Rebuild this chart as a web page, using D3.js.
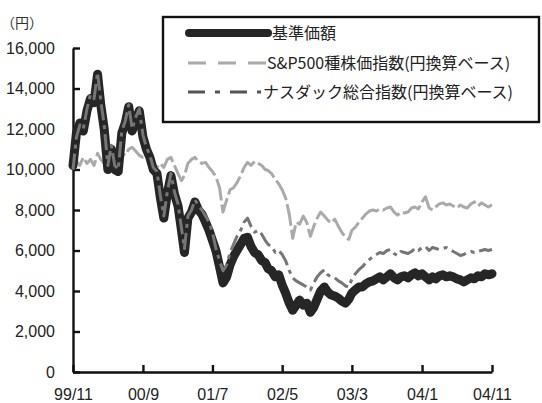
<!DOCTYPE html>
<html><head><meta charset="utf-8">
<script src="https://cdn.jsdelivr.net/npm/d3@7"></script>
<style>
html,body{margin:0;padding:0;background:#fff;}
svg{display:block;}
</style></head>
<body>
<svg id="chart" width="542" height="403"></svg>
<script>
const dates = [
"1999-11-01","1999-11-16","1999-12-01","1999-12-16",
"2000-01-01","2000-01-16","2000-02-01","2000-02-16","2000-03-01","2000-03-16","2000-04-01","2000-04-16",
"2000-05-01","2000-05-16","2000-06-01","2000-06-16","2000-07-01","2000-07-16","2000-08-01","2000-08-16",
"2000-09-01","2000-09-16","2000-10-01","2000-10-16","2000-11-01","2000-11-16","2000-12-01","2000-12-16",
"2001-01-01","2001-01-16","2001-02-01","2001-02-16","2001-03-01","2001-03-16","2001-04-01","2001-04-16",
"2001-05-01","2001-05-16","2001-06-01","2001-06-16","2001-07-01","2001-07-16","2001-08-01","2001-08-16",
"2001-09-01","2001-09-16","2001-10-01","2001-10-16","2001-11-01","2001-11-16","2001-12-01","2001-12-16",
"2002-01-01","2002-01-16","2002-02-01","2002-02-16","2002-03-01","2002-03-16","2002-04-01","2002-04-16",
"2002-05-01","2002-05-16","2002-06-01","2002-06-16","2002-07-01","2002-07-16","2002-08-01","2002-08-16",
"2002-09-01","2002-09-16","2002-10-01","2002-10-16","2002-11-01","2002-11-16","2002-12-01","2002-12-16",
"2003-01-01","2003-01-16","2003-02-01","2003-02-16","2003-03-01","2003-03-16","2003-04-01","2003-04-16",
"2003-05-01","2003-05-16","2003-06-01","2003-06-16","2003-07-01","2003-07-16","2003-08-01","2003-08-16",
"2003-09-01","2003-09-16","2003-10-01","2003-10-16","2003-11-01","2003-11-16","2003-12-01","2003-12-16",
"2004-01-01","2004-01-16","2004-02-01","2004-02-16","2004-03-01","2004-03-16","2004-04-01","2004-04-16",
"2004-05-01","2004-05-16","2004-06-01","2004-06-16","2004-07-01","2004-07-16","2004-08-01","2004-08-16",
"2004-09-01","2004-09-16","2004-10-01","2004-10-16","2004-11-01"
];
const fund = [
10200,11800,12300,11900,12900,13500,13300,14700,13200,12000,10000,11000,
10000,9900,11800,12300,13100,11900,12500,12900,11600,11000,10600,10000,
9800,8600,7600,8800,9700,8800,8200,7000,5900,7600,7900,8400,
8000,7800,7400,7000,6500,6000,5200,4400,4700,5300,5700,6000,
6300,6600,6650,6200,5900,5800,5500,5400,5100,5000,4700,4800,
4300,3900,3400,3050,3300,3550,3300,3400,2950,3200,3600,4000,
4200,3950,3800,3750,3650,3500,3400,3600,3900,4050,4200,4200,
4350,4450,4500,4600,4700,4550,4700,4850,4650,4550,4700,4750,
4650,4800,4900,4750,4850,4700,4550,4700,4600,4750,4800,4700,
4750,4700,4600,4550,4450,4550,4650,4600,4750,4700,4850,4800,4850
];
const sp500 = [
10000,10400,10200,10600,10300,10500,10200,10800,10500,10300,10600,10400,
10600,10500,10800,10700,11000,11100,10900,10700,10600,10800,10400,10300,
10100,10300,10100,10500,10600,10200,9800,9450,9700,10300,10500,10600,
10400,10300,10350,10100,9900,9650,9100,7900,8500,9000,9100,9350,
9700,10100,10350,10200,10400,10300,10200,10000,9950,9800,9500,9300,
9000,8600,7800,6600,7400,7300,7700,7400,6700,7200,7600,7900,
7700,7500,7350,7550,7200,6900,6650,6550,7000,7150,7400,7600,
7800,7950,8000,7950,8050,8000,8100,8150,7900,7750,7900,7850,
7900,8100,8150,8050,8400,8650,8100,8000,8150,8300,8350,8250,
8300,8200,8100,8250,8150,8100,8300,8400,8200,8350,8250,8150,8250
];
const nasdaq = [
10000,11600,12200,12000,13000,13700,13500,14800,13400,12200,10200,11200,
10200,10000,11900,12400,13200,12000,12600,13000,11700,11100,10700,10100,
9900,8700,7700,8900,9800,8900,8300,7100,6100,7700,8000,8500,
8200,8000,7700,7400,6900,6100,5500,5000,5300,5900,6300,6700,
7000,7400,7600,7200,6900,7000,6800,6500,6300,6200,5900,6000,
5800,5500,5000,4650,4500,4400,4300,4200,4050,4400,4700,4900,
5050,4800,4700,4650,4500,4400,4250,4200,4600,4850,5050,5200,
5400,5550,5700,5800,5900,5850,6000,6050,5850,5750,5950,5900,
5850,5950,6100,6000,6150,6200,6000,6150,6100,6050,6100,6150,
6050,5950,5850,5750,5800,5900,5950,5900,5950,6000,6050,6000,6050
];
const yTicks = [0,2000,4000,6000,8000,10000,12000,14000,16000];
const xTickDates = ["1999-11-01","2000-09-01","2001-07-01","2002-05-01","2003-03-01","2004-01-01","2004-11-01"];
const xTickLabels = ["99/11","00/9","01/7","02/5","03/3","04/1","04/11"];
const legendLabels = ["基準価額","S&P500種株価指数(円換算ベース)","ナスダック総合指数(円換算ベース)"];
const unitLabel = "（円）";

const parse = d3.timeParse("%Y-%m-%d");
const D = dates.map(parse);
const svg = d3.select("#chart");
const x = d3.scaleTime().domain([parse("1999-11-01"), parse("2004-11-01")]).range([73, 492]);
const y = d3.scaleLinear().domain([0, 16000]).range([372, 48]);
const numFont = "'Liberation Sans', Arial, sans-serif";
const jpFont = "'Noto Sans CJK JP', 'Noto Sans', sans-serif";

// axes
const yAxis = d3.axisLeft(y).tickValues(yTicks).tickSizeInner(-7).tickSizeOuter(0).tickPadding(18)
  .tickFormat(d3.format(","));
const gy = svg.append("g").attr("transform", "translate(73,0)").call(yAxis);
const tickMap = new Map(xTickDates.map((d,i)=>[+parse(d), xTickLabels[i]]));
const xAxis = d3.axisBottom(x).tickValues(xTickDates.map(parse)).tickSizeInner(-7).tickSizeOuter(0).tickPadding(17)
  .tickFormat(d => tickMap.get(+d));
const gx = svg.append("g").attr("transform", "translate(0,372)").call(xAxis);
[gx, gy].forEach(g => {
  g.select(".domain").attr("stroke", "#111").attr("stroke-width", 2.4);
  g.selectAll(".tick line").attr("stroke", "#111").attr("stroke-width", 2.4);
  g.selectAll(".tick text").attr("font-family", numFont).attr("font-size", 16).attr("fill", "#222");
});

svg.append("text").attr("x", 1).attr("y", 28).attr("font-family", jpFont).attr("font-size", 14)
  .attr("fill", "#333").text(unitLabel);

// lines
const mk = vals => d3.line().x((d,i)=>x(D[i])).y(d=>y(d))(vals);
svg.append("path").attr("d", mk(sp500)).attr("fill","none").attr("stroke","#aaaaaa")
  .attr("stroke-width",3).attr("stroke-dasharray","22,4").attr("stroke-linejoin","round");
svg.append("path").attr("d", mk(fund)).attr("fill","none").attr("stroke","#262626")
  .attr("stroke-width",9).attr("stroke-linejoin","round").attr("stroke-linecap","round");
svg.append("path").attr("d", mk(nasdaq)).attr("fill","none").attr("stroke","#767676")
  .attr("stroke-width",3).attr("stroke-dasharray","16,5,4,5").attr("stroke-linejoin","round");

// legend
const lg = svg.append("g");
lg.append("rect").attr("x",163).attr("y",17).attr("width",376).attr("height",105)
  .attr("fill","#fff").attr("stroke","#111").attr("stroke-width",2.4);
const rows = [33, 63, 92];
lg.append("line").attr("x1",189).attr("x2",268).attr("y1",rows[0]).attr("y2",rows[0])
  .attr("stroke","#262626").attr("stroke-width",8).attr("stroke-linecap","round");
lg.append("line").attr("x1",188).attr("x2",266).attr("y1",rows[1]).attr("y2",rows[1])
  .attr("stroke","#aaaaaa").attr("stroke-width",3).attr("stroke-dasharray","18,12");
lg.append("line").attr("x1",188).attr("x2",261).attr("y1",rows[2]).attr("y2",rows[2])
  .attr("stroke","#555").attr("stroke-width",3).attr("stroke-dasharray","17,10,5,10");
const tx = [272, 267, 263];
legendLabels.forEach((t,i) => {
  lg.append("text").attr("x",tx[i]).attr("y",rows[i]).attr("dy","0.36em")
    .attr("font-family",jpFont).attr("font-size",16).attr("fill","#222").text(t);
});
</script>
</body></html>
